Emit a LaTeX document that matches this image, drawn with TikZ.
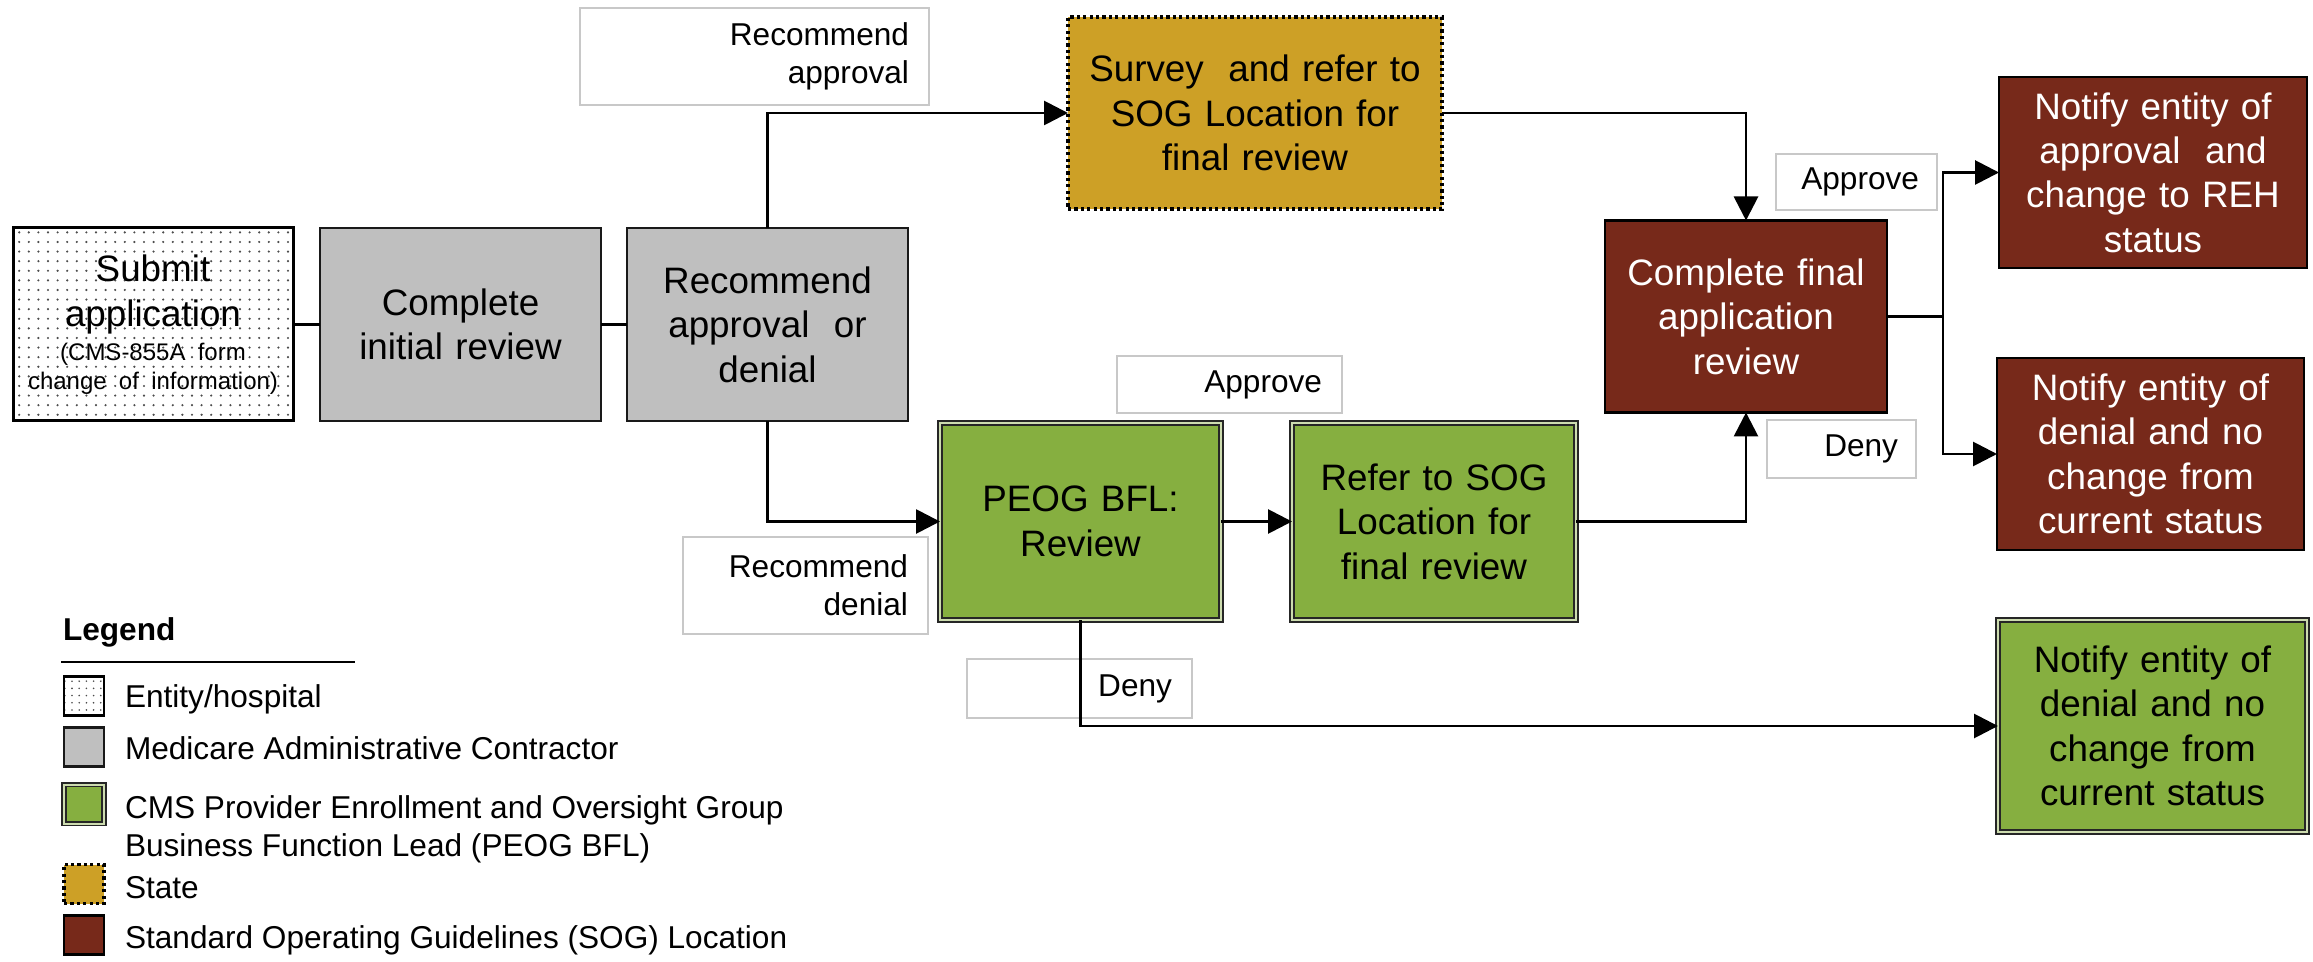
\documentclass[tikz,border=0pt]{standalone}
\usepackage{fontspec}
\setmainfont{Liberation Sans}
\usetikzlibrary{arrows.meta,patterns.meta}
\definecolor{macgray}{RGB}{191,191,191}
\definecolor{stategold}{RGB}{205,160,38}
\definecolor{sogbrown}{RGB}{119,41,26}
\definecolor{peoggreen}{RGB}{134,175,64}
\definecolor{gapgreen}{RGB}{205,220,175}
\definecolor{lblgray}{RGB}{200,200,200}
\begin{document}
\begin{tikzpicture}[x=0.5pt,y=-0.5pt,
  every node/.style={outer sep=0pt},
  box/.style={align=center, inner sep=0pt, text width=128pt, font=\fontsize{18.4}{22.2}\selectfont},
  entityfill/.style={draw=black, line width=1.5pt, pattern={Dots[distance=4.8pt,radius=0.6pt]}, pattern color=black!70},
  macfill/.style={draw=black!90, line width=1.3pt, fill=macgray},
  statefill/.style={draw=black, line width=1.6pt, dash pattern=on 1.6pt off 1.6pt, fill=stategold},
  peogfill/.style={draw=black!85, line width=0.9pt, double=gapgreen, double distance=1pt, fill=peoggreen},
  sogfill/.style={draw=black, line width=1.3pt, fill=sogbrown},
  lbl/.style={draw=lblgray, line width=0.7pt, fill=white, align=right, inner xsep=10pt, inner ysep=0pt, font=\fontsize{15.8}{19}\selectfont},
  ln/.style={line width=1.4pt},
  arr/.style={ln, -{Triangle[length=12pt,width=12pt]}},
  legtext/.style={font=\fontsize{15.8}{19}\selectfont, inner sep=0pt, align=left},
  lbox/.style={minimum width=20pt, minimum height=19.5pt, inner sep=0pt},
]
\useasboundingbox (0,0) rectangle (2313,962);
\fill[white] (0,0) rectangle (2313,962);

% main boxes
\node[box, entityfill, minimum width=140pt, minimum height=96.5pt, text width=134pt] (sub) at (153,324.5)
  {{\fontsize{18.4}{22.2}\selectfont Submit\\application\par}\vspace{2.5pt}{\fontsize{12}{14.5}\selectfont \mbox{(CMS-855A form}\\\mbox{change of information)}\par}};
\node[box, macfill, minimum width=140.5pt, minimum height=96.5pt] (cir) at (460.5,324.5) {Complete\\initial review};
\node[box, macfill, minimum width=140.5pt, minimum height=96.5pt] (rad) at (767.5,324.5) {Recommend\\approval~ or\\denial};
\node[box, statefill, minimum width=187pt, minimum height=96pt, text width=176pt] (survey) at (1255,113) {Survey~ and refer to\\SOG Location for\\final review};
\node[box, peogfill, minimum width=140.5pt, minimum height=98.5pt] (peog) at (1080.5,521.5) {PEOG BFL:\\Review};
\node[box, peogfill, minimum width=142pt, minimum height=98.5pt] (refer) at (1434,521.5) {Refer to SOG\\Location for\\final review};
\node[box, sogfill, text=white, minimum width=141pt, minimum height=96pt] (cfr) at (1746,316.5) {Complete final\\application\\review};
\node[box, sogfill, text=white, minimum width=154pt, minimum height=95.5pt, text width=142pt] (na) at (2153,172.5) {Notify entity of\\approval~ and\\change to REH\\status};
\node[box, sogfill, text=white, minimum width=153.5pt, minimum height=96pt, text width=142pt] (nd) at (2150.5,454) {Notify entity of\\denial and no\\change from\\current status};
\node[box, peogfill, minimum width=154.5pt, minimum height=106pt, text width=142pt] (ng) at (2152.5,726) {Notify entity of\\denial and no\\change from\\current status};

% labels
\node[lbl, minimum width=174.5pt, minimum height=48.5pt, text width=154.5pt] (lra) at (754.5,56.5) {Recommend\\approval};
\node[lbl, minimum width=122.5pt, minimum height=48.5pt, text width=102.5pt] (lrd) at (805.5,585.5) {Recommend\\denial};
\node[lbl, minimum width=112.5pt, minimum height=28.5pt, text width=92.5pt] (lap1) at (1229.5,384.5) {Approve};
\node[lbl, minimum width=112.5pt, minimum height=29.5pt, text width=92.5pt] (lde1) at (1079.5,688.5) {Deny};
\node[lbl, minimum width=80.5pt, minimum height=28pt, text width=62.5pt, inner xsep=9pt] (lap2) at (1856.5,182) {Approve};
\node[lbl, minimum width=74.5pt, minimum height=29pt, text width=56.5pt, inner xsep=9pt] (lde2) at (1841.5,449) {Deny};

% connectors
\draw[ln] (sub.east) -- (cir.west);
\draw[ln] (cir.east) -- (rad.west);
\draw[arr] (rad.north) |- (survey.west);
\draw[arr] (survey.east) -| (cfr.north);
\draw[arr] (rad.south) |- (peog.west);
\draw[arr] (peog.east) -- (refer.west);
\draw[arr] (refer.east) -| (cfr.south);
\draw[arr] (peog.south) |- (ng.west);
\draw[arr] (cfr.east) -- ++(56,0) |- (na.west);
\draw[arr] (cfr.east) -- ++(56,0) |- (nd.west);

% legend
\node[font=\fontsize{15.8}{19}\selectfont\bfseries, anchor=base west, inner sep=0pt] (legtitle) at (63,640) {Legend};
\draw[line width=1.4pt] (61,662) -- (355,662);
\node[lbox, draw=black, line width=1.3pt, pattern={Dots[distance=3.6pt,radius=0.45pt]}, pattern color=black!70] (lb1) at (84,696) {};
\node[lbox, macfill] (lb2) at (84,747) {};
\node[lbox, peogfill] (lb3) at (84,804) {};
\node[lbox, statefill] (lb4) at (84,884) {};
\node[lbox, sogfill] (lb5) at (84,935) {};
\node[legtext, anchor=base west] (lt1) at (125,707) {Entity/hospital};
\node[legtext, anchor=base west] (lt2) at (125,759) {Medicare Administrative Contractor};
\node[legtext, anchor=west] (lt3) at (125,829) {CMS Provider Enrollment and Oversight Group\\Business Function Lead (PEOG BFL)};
\node[legtext, anchor=base west] (lt4) at (125,898) {State};
\node[legtext, anchor=base west] (lt5) at (125,948) {Standard Operating Guidelines (SOG) Location};
\end{tikzpicture}
\end{document}
